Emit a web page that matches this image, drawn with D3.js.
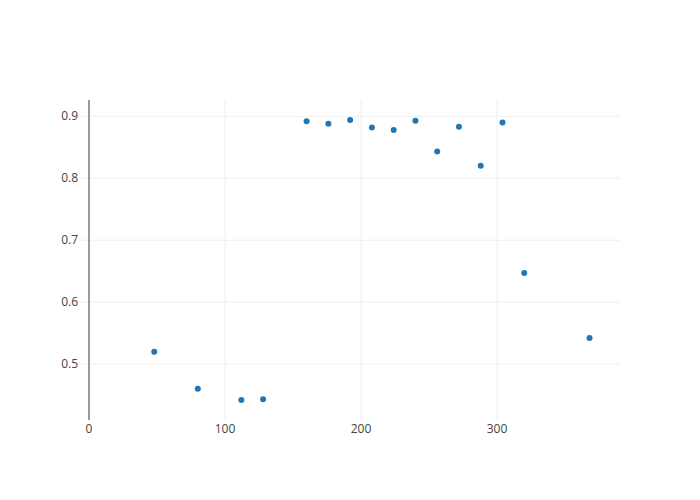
<!DOCTYPE html>
<html>
<head>
<meta charset="utf-8">
<script src="https://cdn.jsdelivr.net/npm/d3@7"></script>
<style>
  body { margin: 0; background: #fff; }
  svg text { font-family: "Open Sans", sans-serif; font-size: 12px; fill: #444; }
</style>
</head>
<body>
<svg id="chart" width="700" height="500"></svg>
<script>
// data
var xValues = [48, 80, 112, 128, 160, 176, 192, 208, 224, 240, 256, 272, 288, 304, 320, 368];
var yValues = [0.520, 0.460, 0.442, 0.443, 0.892, 0.888, 0.894, 0.882, 0.878, 0.893, 0.843, 0.883, 0.820, 0.890, 0.647, 0.542];
var xTicks = [0, 100, 200, 300];
var yTicks = [0.5, 0.6, 0.7, 0.8, 0.9];

var margin = {left: 80, right: 80, top: 100, bottom: 80};
var width = 700, height = 500;

var svg = d3.select("#chart");

var xScale = d3.scaleLinear()
    .domain([-6.6, 390.4])
    .range([margin.left, width - margin.right]);
var yScale = d3.scaleLinear()
    .domain([0.4097, 0.9263])
    .range([height - margin.bottom, margin.top]);

// grid lines
svg.append("g")
    .selectAll("line")
    .data(xTicks.filter(d => d != 0))
    .enter().append("line")
    .attr("x1", d => xScale(d)).attr("x2", d => xScale(d))
    .attr("y1", margin.top).attr("y2", height - margin.bottom)
    .attr("stroke", "#eee").attr("stroke-width", 1);

svg.append("g")
    .selectAll("line")
    .data(yTicks)
    .enter().append("line")
    .attr("x1", margin.left).attr("x2", width - margin.right)
    .attr("y1", d => yScale(d)).attr("y2", d => yScale(d))
    .attr("stroke", "#eee").attr("stroke-width", 1);

// zero line
svg.append("line")
    .attr("x1", xScale(0)).attr("x2", xScale(0))
    .attr("y1", margin.top).attr("y2", height - margin.bottom)
    .attr("stroke", "#999").attr("stroke-width", 2);

// tick labels
svg.append("g")
    .selectAll("text")
    .data(xTicks)
    .enter().append("text")
    .attr("x", d => xScale(d))
    .attr("y", height - margin.bottom + 13)
    .attr("text-anchor", "middle")
    .text(d => d);

svg.append("g")
    .selectAll("text")
    .data(yTicks)
    .enter().append("text")
    .attr("x", margin.left - 2)
    .attr("y", d => yScale(d) + 4)
    .attr("text-anchor", "end")
    .text(d => d3.format(".1f")(d));

// points
svg.append("g")
    .selectAll("circle")
    .data(xValues)
    .enter().append("circle")
    .attr("cx", d => xScale(d))
    .attr("cy", (d, i) => yScale(yValues[i]))
    .attr("r", 3)
    .style("fill", "#1f77b4");
</script>
</body>
</html>
